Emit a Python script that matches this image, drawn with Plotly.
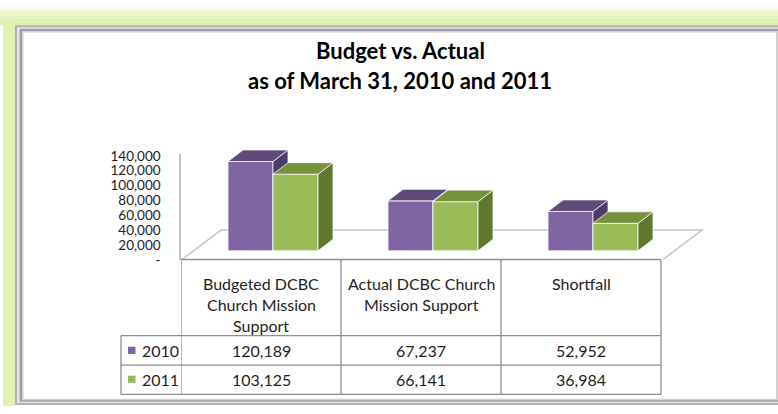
import plotly.graph_objects as go

# ---------------- data ----------------
categories = ["Budgeted DCBC Church Mission Support",
              "Actual DCBC Church Mission Support",
              "Shortfall"]
category_lines = [["Budgeted DCBC", "Church Mission", "Support"],
                  ["Actual DCBC Church", "Mission Support"],
                  ["Shortfall"]]
series_names = ["2010", "2011"]
values_2010 = [120189, 67237, 52952]
values_2011 = [103125, 66141, 36984]
tick_values = [0, 20000, 40000, 60000, 80000, 100000, 120000, 140000]
tick_labels = ["-", "20,000", "40,000", "60,000", "80,000", "100,000", "120,000", "140,000"]
title_lines = ["Budget vs. Actual", "as of March 31, 2010 and 2011"]

# ---------------- styles / geometry ----------------
W, H = 778, 414
FONT = "Lato"
TXT = "#1e1e1e"
front_colors = ["#8064A2", "#9BBB59"]
top_colors = ["#604A7B", "#76923C"]
side_colors = ["#4E3C66", "#5F7731"]
EDGE = "rgba(255,255,255,0.75)"

K = 0.000771            # pixels per value unit
CAT_PX = 160.0          # pixels per category
PLOT_L, PLOT_R = 181, 703
CAT0 = 273              # pixel centre of the first bar pair
BAR_W = 45 / CAT_PX
DX = 15 / CAT_PX        # depth offset (x, data units)
DY = 12 / K             # depth offset (y, data units)
BASE_PX, TOP_PX = 253, 140
AX_BASE_PX, AX_TOP_PX = 262.3, 153


def px(x):
    return x / W


def py(y):
    return 1 - y / H


xr = [(PLOT_L - CAT0) / CAT_PX, (PLOT_R - CAT0) / CAT_PX]
yr = [0, (BASE_PX - TOP_PX) / K]
y2r = [0, (AX_BASE_PX - AX_TOP_PX) / K]

fig = go.Figure()

# empty trace so the value-axis subplot is created
fig.add_trace(go.Scatter(x=[], y=[], yaxis="y2", hoverinfo="skip", showlegend=False))

series_values = [values_2010, values_2011]
yaxes = ["y", "y3"]
offsets = [-BAR_W, 0.0]
xs = list(range(len(categories)))

for s, vals in enumerate(series_values):
    fig.add_trace(go.Bar(
        x=xs, y=vals, width=BAR_W, offset=offsets[s], yaxis=yaxes[s],
        name=series_names[s], marker=dict(color=front_colors[s], line=dict(color=EDGE, width=1)),
        hoverinfo="skip", showlegend=False))
    tx, ty, sx, sy = [], [], [], []
    for i, v in enumerate(vals):
        l = i + offsets[s]
        r = l + BAR_W
        tx += [l, r, r + DX, l + DX, l, None]
        ty += [v, v, v + DY, v + DY, v, None]
        sx += [r, r, r + DX, r + DX, r, None]
        sy += [0, v, v + DY, DY, 0, None]
    fig.add_trace(go.Scatter(x=sx, y=sy, yaxis=yaxes[s], mode="lines", fill="toself",
                             fillcolor=side_colors[s], line=dict(color=EDGE, width=1),
                             hoverinfo="skip", showlegend=False))
    fig.add_trace(go.Scatter(x=tx, y=ty, yaxis=yaxes[s], mode="lines", fill="toself",
                             fillcolor=top_colors[s], line=dict(color=EDGE, width=1),
                             hoverinfo="skip", showlegend=False))

shapes = []
# green glow band (top) and strip (left)
greens = ["#f7fcec", "#eef8d8", "#e6f4c6", "#e1f1bb", "#ddefb3", "#dbeeb0"]
for j, c in enumerate(greens):
    shapes.append(dict(type="rect", xref="paper", yref="paper", layer="below",
                       x0=0, x1=1, y0=py(j * 3), y1=py(j * 3 + 3 if j < 5 else 19),
                       fillcolor=c, line=dict(width=0)))
shapes.append(dict(type="rect", xref="paper", yref="paper", layer="below",
                   x0=px(3), x1=px(15), y0=py(14), y1=py(H), fillcolor="#e0f1b6", line=dict(width=0)))
# double grey frame
for (x0, y0, y1, c) in [(15, 19, 413, "#b0b0b0"), (17, 21, 411, "#e8e8e8"),
                        (19.5, 22.5, 409.5, "#a0a0a0"), (22, 25, 408, "#d0d0d0")]:
    shapes.append(dict(type="rect", xref="paper", yref="paper", layer="below",
                       x0=px(x0), x1=1.02, y0=py(y0), y1=py(y1), fillcolor=c, line=dict(width=0)))
shapes.append(dict(type="rect", xref="paper", yref="paper", layer="below",
                   x0=px(23.5), x1=px(776), y0=py(26.5), y1=py(406.5), fillcolor="white", line=dict(width=0)))

# floor (3-D plane)
FLOOR = "#c4c4c4"
floor_pts = [(182, 262), (221, 231.5), (702, 231.5), (663, 262)]
path = "M " + " L ".join(f"{px(a)},{py(b)}" for a, b in floor_pts)
shapes.append(dict(type="path", xref="paper", yref="paper", layer="below", path=path,
                   line=dict(color=FLOOR, width=1.5)))

# data table grid
GRID = "#8e8e8e"
col_edges = [xr[0] + i for i in range(len(categories) + 1)]
row_lines = [262, 341, 371.5, 402]
LEG_L = 121
TABLE_R = PLOT_L + (col_edges[-1] - xr[0]) * CAT_PX
for ce in col_edges:
    shapes.append(dict(type="line", xref="x", yref="paper", layer="below",
                       x0=ce, x1=ce, y0=py(262), y1=py(402), line=dict(color=GRID, width=1.3)))
shapes.append(dict(type="line", xref="paper", yref="paper", layer="below",
                   x0=px(LEG_L), x1=px(LEG_L), y0=py(341), y1=py(402), line=dict(color=GRID, width=1.3)))
for k, rl in enumerate(row_lines):
    shapes.append(dict(type="line", xref="paper", yref="paper", layer="below",
                       x0=px(PLOT_L if k == 0 else LEG_L), x1=px(TABLE_R),
                       y0=py(rl), y1=py(rl), line=dict(color=GRID, width=1.3)))

annotations = []
# title
for j, t in enumerate(title_lines):
    annotations.append(dict(text=t, xref="paper", yref="paper", x=px(400), y=py(45 + 31 * j),
                            xanchor="center", yanchor="middle", showarrow=False,
                            font=dict(family=FONT, size=22, color="#000000", weight="bold")))
# header cells
for i, lines in enumerate(category_lines):
    for j, ln in enumerate(lines):
        annotations.append(dict(text=ln, xref="x", yref="paper", x=col_edges[i] + 0.5,
                                y=py(287 + 21.5 * j), xanchor="center", yanchor="middle",
                                showarrow=False, font=dict(family=FONT, size=16, color=TXT)))
# value cells + legend keys
row_centers = [356.5, 386.5]
for s, vals in enumerate(series_values):
    for i, v in enumerate(vals):
        annotations.append(dict(text=f"{v:,}", xref="x", yref="paper", x=col_edges[i] + 0.5,
                                y=py(row_centers[s]), xanchor="center", yanchor="middle",
                                showarrow=False, font=dict(family=FONT, size=16, color=TXT)))
    shapes.append(dict(type="rect", xref="paper", yref="paper", x0=px(128), x1=px(135.5),
                       y0=py(row_centers[s] - 4), y1=py(row_centers[s] + 3.5),
                       fillcolor=front_colors[s], line=dict(width=0)))
    annotations.append(dict(text=series_names[s], xref="paper", yref="paper", x=px(139.5),
                            y=py(row_centers[s]), xanchor="left", yanchor="middle", showarrow=False,
                            font=dict(family=FONT, size=16, color=TXT)))

fig.update_layout(
    width=W, height=H, margin=dict(l=0, r=0, t=0, b=0),
    paper_bgcolor="white", plot_bgcolor="rgba(0,0,0,0)",
    barmode="overlay", showlegend=False,
    xaxis=dict(domain=[px(PLOT_L), px(PLOT_R)], range=xr, visible=False, fixedrange=True),
    yaxis=dict(domain=[py(BASE_PX), py(TOP_PX)], range=yr, visible=False, anchor="x"),
    yaxis3=dict(overlaying="y", range=yr, visible=False, anchor="x"),
    yaxis2=dict(domain=[py(AX_BASE_PX), py(AX_TOP_PX)], range=y2r, anchor="x",
                tickvals=tick_values, ticktext=tick_labels, showgrid=False, zeroline=False,
                showline=True, linecolor=FLOOR, linewidth=1.5,
                ticks="outside", ticklen=16, tickcolor="rgba(0,0,0,0)",
                tickfont=dict(family=FONT, size=13.5, color="#222222")),
    shapes=shapes, annotations=annotations,
)

fig.write_html("out.html", config={"displayModeBar": False},
               post_script="document.body.style.margin='0';document.body.style.overflow='hidden';")
